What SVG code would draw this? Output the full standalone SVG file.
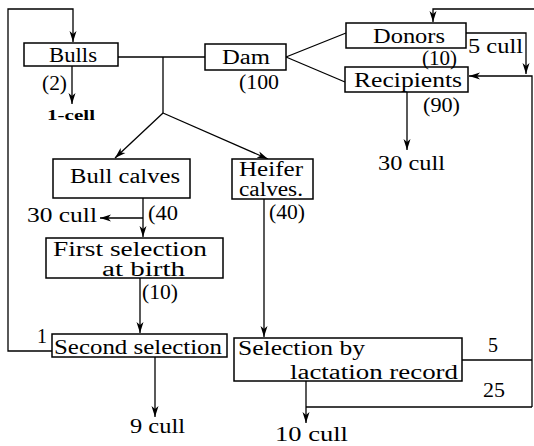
<svg xmlns="http://www.w3.org/2000/svg" width="534" height="446" viewBox="0 0 534 446">
<defs>
<style>
.box{fill:#fff;stroke:#000;stroke-width:1.5}
.ln{fill:none;stroke:#000;stroke-width:1.3}
text{font-family:"Liberation Serif","DejaVu Serif","Times New Roman",Times,serif;font-size:20px;fill:#000}
text.b{font-size:15px;font-weight:bold}
</style>
<marker id="ah" markerWidth="12" markerHeight="8" refX="11" refY="4" orient="auto" markerUnits="userSpaceOnUse">
<path d="M0,0.5 L11,4 L0,7.5 L3,4 Z" fill="#000"/>
</marker>
</defs>
<rect width="534" height="446" fill="#fff"/>
<g id="connectors">
<path class="ln" d="M52,351 H8 V9 H73 V42" marker-end="url(#ah)"/>
<path class="ln" d="M72,66 V104" marker-end="url(#ah)"/>
<path class="ln" d="M118,57 H205"/>
<path class="ln" d="M163,57 V113"/>
<path class="ln" d="M163,113 L115,158" marker-end="url(#ah)"/>
<path class="ln" d="M163,113 L268,159" marker-end="url(#ah)"/>
<path class="ln" d="M286,57 L346,33"/>
<path class="ln" d="M286,57 L345,82"/>
<path class="ln" d="M466,33 H526 V74" marker-end="url(#ah)"/>
<path class="ln" d="M534,9 H433 V22" marker-end="url(#ah)"/>
<path class="ln" d="M532,407 V76 H469" marker-end="url(#ah)"/>
<path class="ln" d="M462,360 H532"/>
<path class="ln" d="M306,407 H532"/>
<path class="ln" d="M306,381 V423" marker-end="url(#ah)"/>
<path class="ln" d="M407,92 V150" marker-end="url(#ah)"/>
<path class="ln" d="M143,198 V237" marker-end="url(#ah)"/>
<path class="ln" d="M143,218 H100" marker-end="url(#ah)"/>
<path class="ln" d="M140,278 V333" marker-end="url(#ah)"/>
<path class="ln" d="M264,199 V337" marker-end="url(#ah)"/>
<path class="ln" d="M155,357 V417" marker-end="url(#ah)"/>
</g>
<g id="bulls">
<rect class="box" x="24" y="43" width="94" height="23"/>
<text x="49" y="62" textLength="48" lengthAdjust="spacingAndGlyphs">Bulls</text>
<text x="42" y="90" textLength="25" lengthAdjust="spacingAndGlyphs">(2)</text>
<text class="b" x="47" y="120" textLength="48" lengthAdjust="spacingAndGlyphs">1-cell</text>
</g>
<g id="dam">
<rect class="box" x="205" y="44" width="81" height="26"/>
<text x="222" y="64" textLength="48" lengthAdjust="spacingAndGlyphs">Dam</text>
<text x="239" y="89" textLength="40" lengthAdjust="spacingAndGlyphs">(100</text>
</g>
<g id="donors">
<rect class="box" x="346" y="23" width="120" height="25"/>
<text x="373" y="43" textLength="72" lengthAdjust="spacingAndGlyphs">Donors</text>
<text x="468" y="53" textLength="55" lengthAdjust="spacingAndGlyphs">5 cull</text>
</g>
<g id="recipients">
<rect class="box" x="345" y="67" width="123" height="25"/>
<text x="422" y="65" textLength="35" lengthAdjust="spacingAndGlyphs">(10)</text>
<text x="354" y="87" textLength="108" lengthAdjust="spacingAndGlyphs">Recipients</text>
<text x="423" y="112" textLength="37" lengthAdjust="spacingAndGlyphs">(90)</text>
<text x="378" y="170" textLength="67" lengthAdjust="spacingAndGlyphs">30 cull</text>
</g>
<g id="bull-calves">
<rect class="box" x="53" y="159" width="137" height="39"/>
<text x="70" y="183" textLength="110" lengthAdjust="spacingAndGlyphs">Bull calves</text>
<text x="148" y="220" textLength="30" lengthAdjust="spacingAndGlyphs">(40</text>
<text x="27" y="222" textLength="70" lengthAdjust="spacingAndGlyphs">30 cull</text>
</g>
<g id="heifer-calves">
<rect class="box" x="232" y="159" width="81" height="40"/>
<text x="239" y="176" textLength="64" lengthAdjust="spacingAndGlyphs">Heifer</text>
<text x="239" y="196" textLength="64" lengthAdjust="spacingAndGlyphs">calves.</text>
<text x="269" y="219" textLength="36" lengthAdjust="spacingAndGlyphs">(40)</text>
</g>
<g id="first-selection">
<rect class="box" x="46" y="238" width="177" height="40"/>
<text x="53" y="256" textLength="154" lengthAdjust="spacingAndGlyphs">First selection</text>
<text x="102" y="276" textLength="83" lengthAdjust="spacingAndGlyphs">at birth</text>
<text x="142" y="299" textLength="36" lengthAdjust="spacingAndGlyphs">(10)</text>
</g>
<g id="second-selection">
<rect class="box" x="52" y="334" width="175" height="23"/>
<text x="37" y="343">1</text>
<text x="54" y="354" textLength="168" lengthAdjust="spacingAndGlyphs">Second selection</text>
<text x="130" y="433" textLength="55" lengthAdjust="spacingAndGlyphs">9 cull</text>
</g>
<g id="lactation-selection">
<rect class="box" x="234" y="338" width="228" height="43"/>
<text x="238" y="355" textLength="127" lengthAdjust="spacingAndGlyphs">Selection by</text>
<text x="290" y="379" textLength="168" lengthAdjust="spacingAndGlyphs">lactation record</text>
<text x="488" y="352">5</text>
<text x="483" y="397" textLength="22" lengthAdjust="spacingAndGlyphs">25</text>
<text x="275" y="441" textLength="73" lengthAdjust="spacingAndGlyphs">10 cull</text>
</g>
</svg>
